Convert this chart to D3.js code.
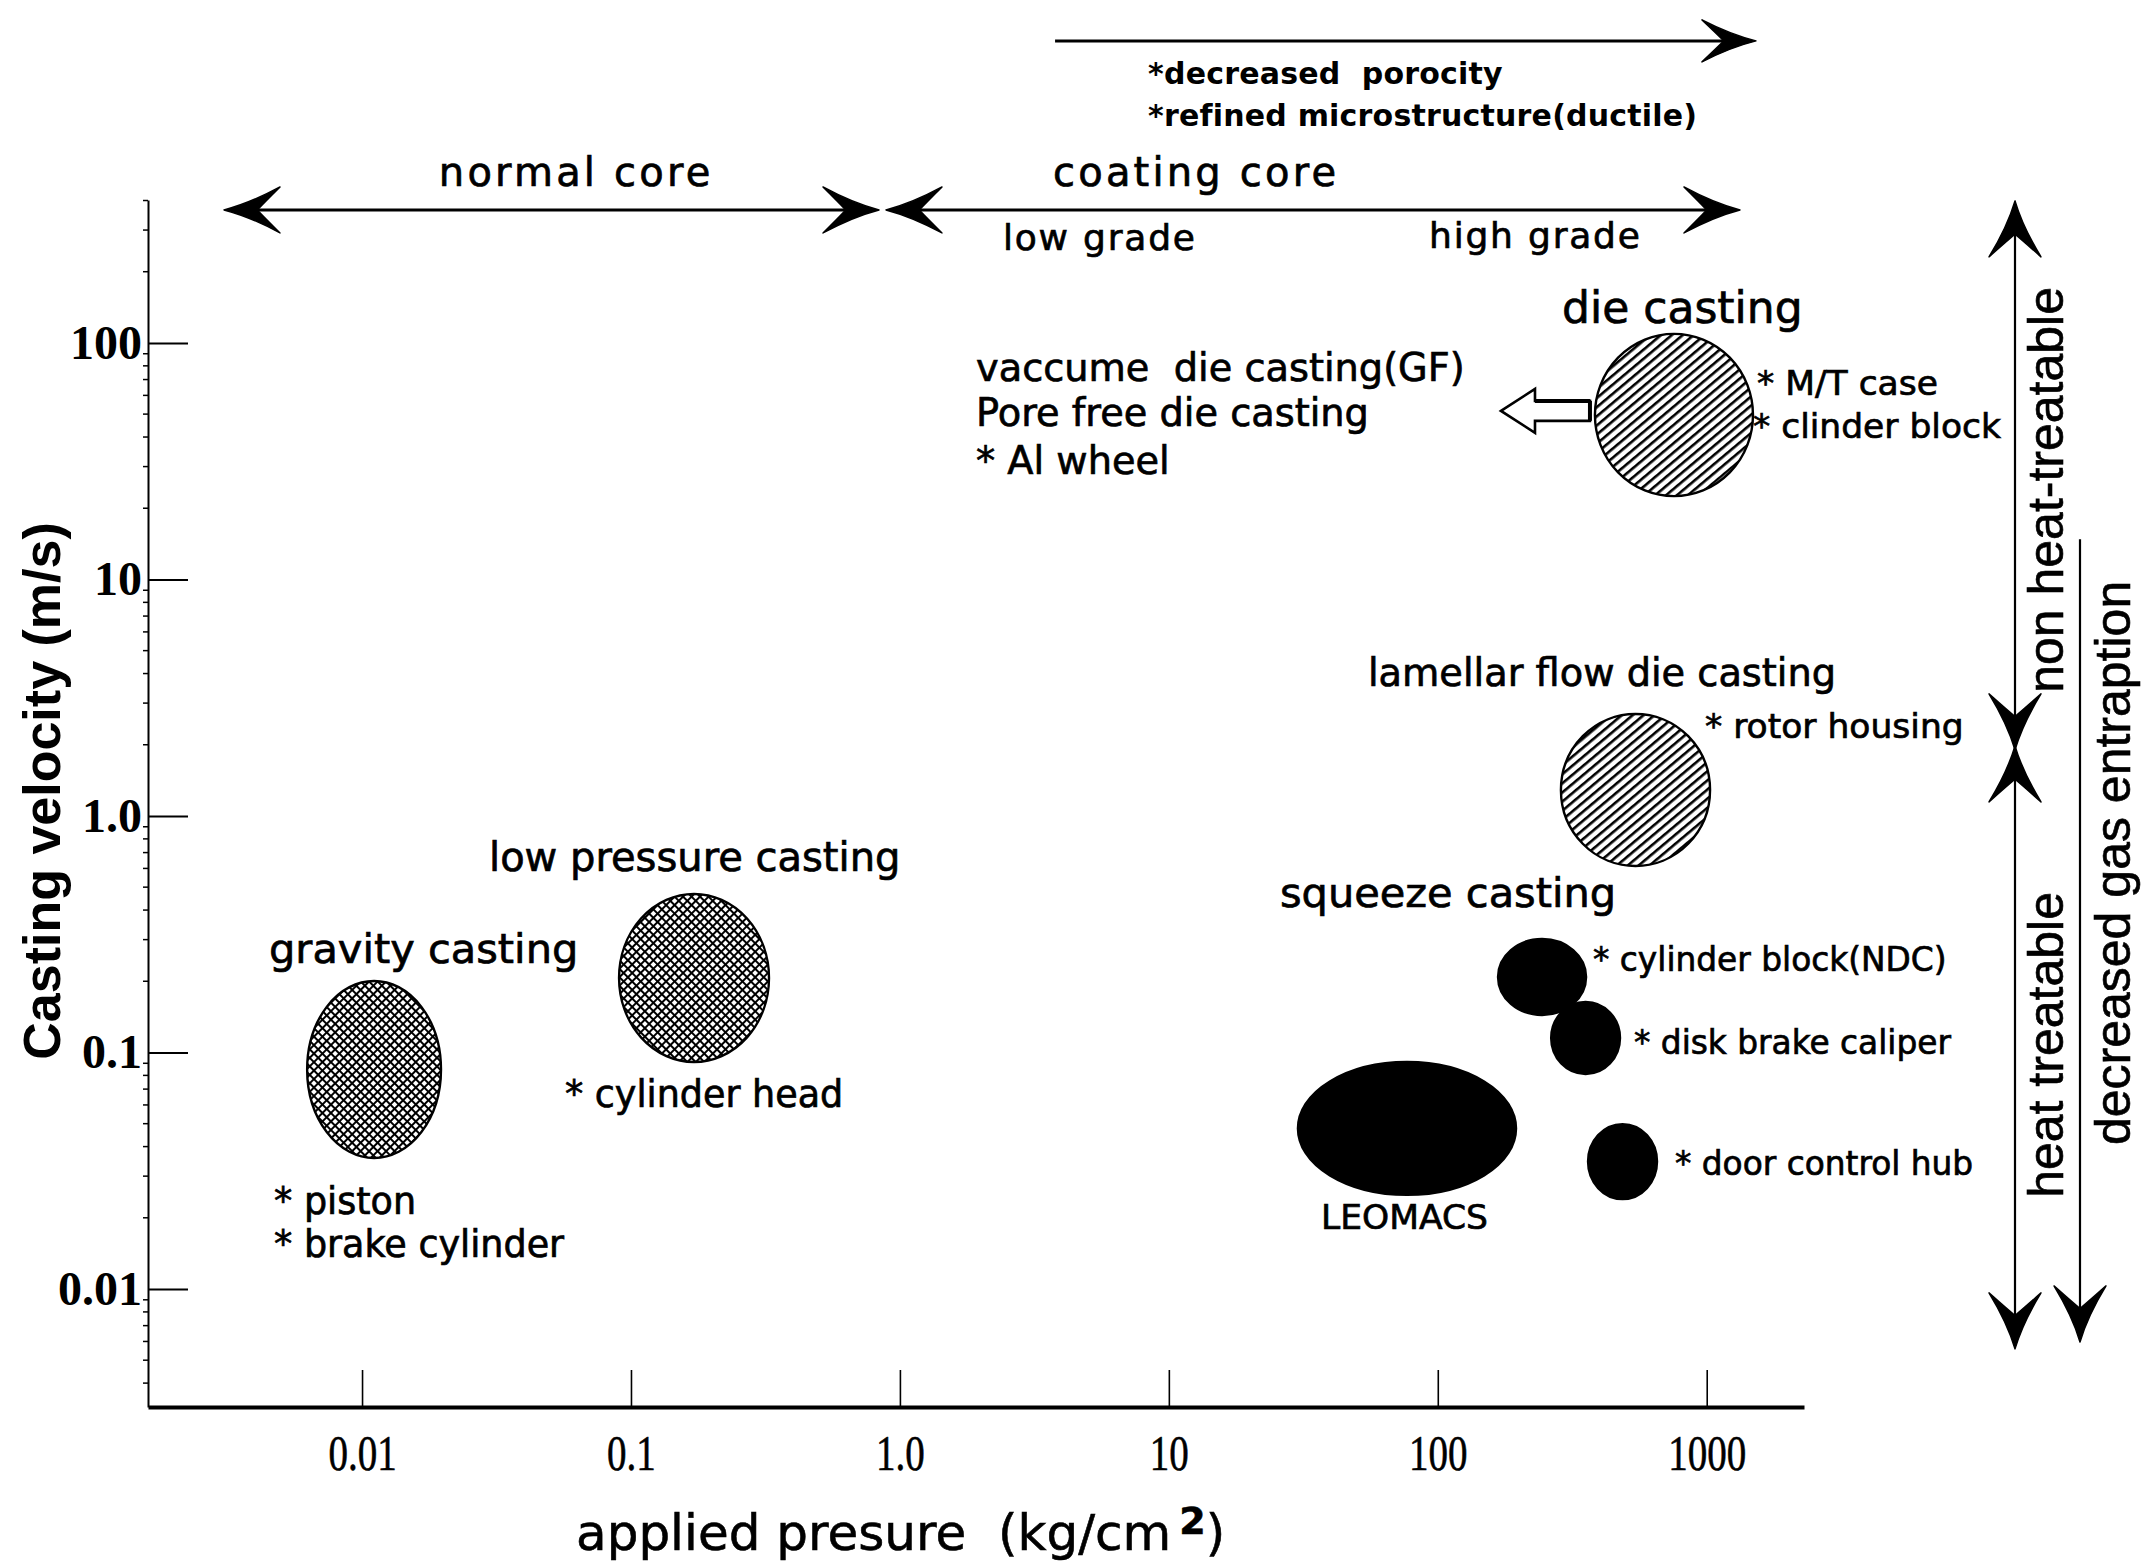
<!DOCTYPE html>
<html><head><meta charset="utf-8">
<script src="https://cdn.jsdelivr.net/npm/d3@7"></script>
<style>html,body{margin:0;padding:0;background:#fff;} svg{display:block;} text{white-space:pre;}</style>
</head><body>
<svg id="chart" width="2149" height="1567"></svg>
<script>
// ---------------- data ----------------
const xTickValues = [0.01, 0.1, 1, 10, 100, 1000];
const xTickLabels = ["0.01", "0.1", "1.0", "10", "100", "1000"];
const yTickValues = [0.01, 0.1, 1, 10, 100];
const yTickLabels = ["0.01", "0.1", "1.0", "10", "100"];
const xDomain = [0.0016, 2300];     // applied pressure (kg/cm2) extent of the axis
const yDomain = [0.00317, 402];     // casting velocity (m/s) extent of the axis

// process regions (pressure range x velocity range)
const regionNames = ["gravity casting", "low pressure casting", "die casting", "lamellar flow die casting",
  "cylinder block(NDC)", "disk brake caliper", "LEOMACS", "door control hub"];
const regionKind = ["gravity", "lowpressure", "die", "die", "squeeze", "squeeze", "squeeze", "squeeze"];
const pressureMin = [0.00625, 0.0903, 384, 287, 167.5, 264, 30.2, 362];
const pressureMax = [0.01966, 0.326, 1486, 1029, 356, 476, 195.4, 653.5];
const velocityMin = [0.0358, 0.0912, 22.5, 0.614, 0.144, 0.0811, 0.025, 0.024];
const velocityMax = [0.2006, 0.468, 109.2, 2.70, 0.302, 0.1635, 0.0912, 0.0498];

// annotation texts, anchored at (pressure, velocity)
const labelTexts = ["*decreased  porocity", "*refined microstructure(ductile)", "normal core", "coating core",
  "low grade", "high grade", "die casting", "vaccume  die casting(GF)", "Pore free die casting", "* Al wheel",
  "* M/T case", "* clinder block", "lamellar flow die casting", "* rotor housing", "low pressure casting",
  "gravity casting", "* cylinder head", "* piston", "* brake cylinder", "squeeze casting",
  "* cylinder block(NDC)", "* disk brake caliper", "* door control hub", "LEOMACS"];
const labelPressure = [8.37, 8.37, 0.0193, 3.71, 2.417, 92.8, 289.7, 1.919, 1.919, 1.919,
  1538, 1486, 55.0, 985, 0.02966, 0.00451, 0.0568, 0.00471, 0.00471, 25.9, 377.8, 536.6, 762, 36.8];
const labelVelocity = [1385, 920, 528, 528, 280.7, 286, 142, 79.2, 51.1, 32.0,
  67.8, 44.6, 4.06, 2.40, 0.671, 0.2767, 0.0668, 0.02355, 0.01549, 0.4773, 0.2485, 0.1108, 0.0341, 0.02016];
const labelRole = ["note", "note", "core", "core", "grade", "grade", "big", "sub", "sub", "sub",
  "item", "item", "sub", "item", "heading", "heading2", "item2", "item2", "item2", "heading2",
  "item3", "item3", "item3", "item"];

// horizontal range arrows (pressure ranges above the plot)
const rangeFrom = [3.775, 0.00312, 0.903];
const rangeTo = [1499, 0.822, 1307];
const rangeLevel = [1892, 365, 365];      // velocity level at which the arrow is drawn
const rangeHeadStart = [false, true, true];

// vertical range arrows (velocity ranges right of the plot)
const vRangeTop = [391, 1.94, 14.8];
const vRangeBottom = [1.94, 0.00569, 0.00609];
const vRangeColumn = [0, 0, 1];
const vRangeHeadTop = [true, true, false];
const vTexts = ["non heat-treatable", "heat treatable", "decreased gas entraption"];
const vTextVelocity = [23.9, 0.1076, 0.633];
const vTextColumn = [0, 0, 1];

// hollow arrow: from die casting toward vacuum / pore-free die casting
const hollowArrowFrom = 368, hollowArrowTo = 171.8, hollowArrowVelocity = 51.6;

// ---------------- drawing ----------------
const svg = d3.select("#chart");
const W = 2149, H = 1567;
svg.append("rect").attr("width", W).attr("height", H).attr("fill", "#fff");

const x = d3.scaleLog().domain(xDomain).range([148, 1804]);
const y = d3.scaleLog().domain(yDomain).range([1407, 200]);

const defs = svg.append("defs");
const dots = defs.append("pattern").attr("id", "dots").attr("patternUnits", "userSpaceOnUse")
  .attr("width", 6).attr("height", 6).attr("patternTransform", "rotate(45)");
dots.append("rect").attr("width", 6).attr("height", 6).attr("fill", "#fff");
dots.append("rect").attr("width", 6).attr("height", 2.0).attr("fill", "#000");
dots.append("rect").attr("width", 2.0).attr("height", 6).attr("fill", "#000");

const hatch = defs.append("pattern").attr("id", "hatch").attr("patternUnits", "userSpaceOnUse")
  .attr("width", 7).attr("height", 7).attr("patternTransform", "rotate(50)");
hatch.append("rect").attr("width", 7).attr("height", 7).attr("fill", "#fff");
hatch.append("rect").attr("width", 2.6).attr("height", 7).attr("fill", "#000");

const fillFor = { gravity: "url(#dots)", lowpressure: "url(#dots)", die: "url(#hatch)", squeeze: "#000" };

// axes
const xAxis = d3.axisBottom(x).tickValues(xTickValues).tickFormat((d, i) => xTickLabels[i])
  .tickSizeInner(-37).tickSizeOuter(0).tickPadding(28);
const gx = svg.append("g").attr("transform", "translate(0,1407)").call(xAxis);
gx.select(".domain").attr("stroke", "#000").attr("stroke-width", 4);
gx.selectAll(".tick line").attr("stroke", "#000").attr("stroke-width", 1.6);
gx.selectAll(".tick text").attr("font-family", "Liberation Serif, serif").attr("font-size", 50)
  .attr("fill", "#000").attr("stroke", "#000").attr("stroke-width", 0.6).attr("transform", "scale(0.78,1)");

const yAxis = d3.axisLeft(y).tickValues(yTickValues).tickFormat((d, i) => yTickLabels[i])
  .tickSizeInner(-40).tickSizeOuter(0).tickPadding(6);
const gy = svg.append("g").attr("transform", "translate(148,0)").call(yAxis);
gy.select(".domain").attr("stroke", "#000").attr("stroke-width", 2);
gy.selectAll(".tick line").attr("stroke", "#000").attr("stroke-width", 2);
gy.selectAll(".tick text").attr("font-family", "Liberation Serif, serif").attr("font-size", 48)
  .attr("font-weight", "bold").attr("fill", "#000");

// minor log ticks on the y axis (short, to the left)
const minor = [];
for (let e = -3; e <= 2; e++) for (let m = 2; m <= 9; m++) {
  const v = m * Math.pow(10, e);
  if (v > yDomain[0] && v < yDomain[1]) minor.push(v);
}
gy.selectAll("line.minor").data(minor).join("line").attr("class", "minor")
  .attr("x1", -5).attr("x2", 0).attr("y1", d => y(d)).attr("y2", d => y(d))
  .attr("stroke", "#000").attr("stroke-width", 1.5);

// process ellipses
const regions = regionNames.map((n, i) => ({ name: n, kind: regionKind[i],
  x0: pressureMin[i], x1: pressureMax[i], y0: velocityMin[i], y1: velocityMax[i] }));
svg.append("g").selectAll("ellipse").data(regions).join("ellipse")
  .attr("cx", d => (x(d.x0) + x(d.x1)) / 2)
  .attr("cy", d => (y(d.y0) + y(d.y1)) / 2)
  .attr("rx", d => Math.abs(x(d.x1) - x(d.x0)) / 2)
  .attr("ry", d => Math.abs(y(d.y0) - y(d.y1)) / 2)
  .attr("fill", d => fillFor[d.kind])
  .attr("stroke", "#000").attr("stroke-width", 2.4);

// chevron arrowhead, tip at (px,py), pointing along angle (deg, 0 = right)
function chevron(g, px, py, angle, L, Wd) {
  const p = `M2,0 Q${-0.45 * L},${-0.3 * Wd} ${-L},${-Wd} Q${-0.7 * L},${-0.3 * Wd} ${-0.58 * L},0 ` +
            `Q${-0.7 * L},${0.3 * Wd} ${-L},${Wd} Q${-0.45 * L},${0.3 * Wd} 2,0 Z`;
  g.append("path").attr("d", p).attr("fill", "#000").attr("stroke", "#000").attr("stroke-width", 1.5)
    .attr("stroke-linejoin", "round")
    .attr("transform", `translate(${px},${py}) rotate(${angle})`);
}

const ann = svg.append("g");
// horizontal range arrows
rangeFrom.forEach((f, i) => {
  const x0 = x(f), x1 = x(rangeTo[i]), yy = y(rangeLevel[i]);
  ann.append("line").attr("x1", x0 + (rangeHeadStart[i] ? 10 : 0)).attr("x2", x1 - 10)
    .attr("y1", yy).attr("y2", yy).attr("stroke", "#000").attr("stroke-width", 3);
  chevron(ann, x1, yy, 0, i === 0 ? 52 : 54, i === 0 ? 21 : 23);
  if (rangeHeadStart[i]) chevron(ann, x0, yy, 180, 54, 23);
});

// vertical range arrows on the right
const colX = [x.range()[1] + 211, x.range()[1] + 276];
vRangeTop.forEach((t, i) => {
  const cx = colX[vRangeColumn[i]], y0 = y(t), y1 = y(vRangeBottom[i]);
  ann.append("line").attr("x1", cx).attr("x2", cx)
    .attr("y1", y0 + (vRangeHeadTop[i] ? 10 : 0)).attr("y2", y1 - 10)
    .attr("stroke", "#000").attr("stroke-width", 2.2);
  chevron(ann, cx, y1, 90, 54, 26);
  if (vRangeHeadTop[i]) chevron(ann, cx, y0, -90, 54, 26);
});
const vTextX = [x.range()[1] + 241, x.range()[1] + 308];
vTexts.forEach((t, i) => {
  const tx = vTextX[vTextColumn[i]], ty = y(vTextVelocity[i]);
  ann.append("text").attr("transform", `translate(${tx},${ty}) rotate(-90)`)
    .attr("text-anchor", "middle").attr("dy", "0.36em")
    .attr("font-family", "Liberation Sans, Arial, sans-serif").attr("font-size", 50)
    .attr("fill", "#000").attr("stroke", "#000").attr("stroke-width", 0.6).text(t);
});

// hollow arrow
{
  const xt = x(hollowArrowTo), xe = x(hollowArrowFrom), yc = y(hollowArrowVelocity);
  const xh = xt + 34;
  const pts = [[xt, yc], [xh, yc - 22], [xh, yc - 10], [xe, yc - 10], [xe, yc + 10], [xh, yc + 10], [xh, yc + 22]];
  ann.append("polygon").attr("points", pts.map(p => p.join(",")).join(" "))
    .attr("fill", "#fff").attr("stroke", "#000").attr("stroke-width", 2.6).attr("stroke-linejoin", "miter");
  ann.append("line").attr("x1", xh).attr("x2", xe).attr("y1", yc - 10).attr("y2", yc - 10)
    .attr("stroke", "#000").attr("stroke-width", 4);
  ann.append("line").attr("x1", xe).attr("x2", xe).attr("y1", yc - 10).attr("y2", yc + 10)
    .attr("stroke", "#000").attr("stroke-width", 4);
}

// labels
const roleStyle = {
  note: { size: 30, ls: 0.2, weight: "bold" },
  core: { size: 40, ls: 3.2, weight: "normal" },
  grade: { size: 36, ls: 1.8, weight: "normal" },
  big: { size: 44, ls: 0, weight: "normal" },
  heading: { size: 40, ls: 0, weight: "normal" },
  heading2: { size: 41.5, ls: 0, weight: "normal" },
  sub: { size: 38.3, ls: 0, weight: "normal" },
  item: { size: 34.5, ls: 0, weight: "normal" },
  item2: { size: 36.5, ls: 0, weight: "normal" },
  item3: { size: 32.8, ls: 0, weight: "normal" }
};
labelTexts.forEach((t, i) => {
  const st = roleStyle[labelRole[i]];
  ann.append("text").attr("x", x(labelPressure[i])).attr("y", y(labelVelocity[i]))
    .attr("dy", "0.36em").attr("font-family", "DejaVu Sans, sans-serif")
    .attr("font-size", st.size).attr("font-weight", st.weight).attr("letter-spacing", st.ls)
    .attr("fill", "#000").attr("stroke", "#000").attr("stroke-width", st.weight === "bold" ? 0 : 0.7)
    .text(t);
});

// axis titles
svg.append("text").attr("transform", "translate(41,791) rotate(-90)")
  .attr("text-anchor", "middle").attr("dy", "0.36em")
  .attr("font-family", "Liberation Sans, Arial, sans-serif").attr("font-size", 52).attr("font-weight", "bold")
  .attr("fill", "#000").text("Casting velocity (m/s)");

const xt = svg.append("text").attr("x", 576).attr("y", 1532).attr("dy", "0.36em")
  .attr("font-family", "DejaVu Sans, sans-serif").attr("font-size", 50).attr("fill", "#000")
  .attr("stroke", "#000").attr("stroke-width", 0.6);
xt.append("tspan").text("applied presure  (kg/cm");
xt.append("tspan").attr("dx", 8).attr("dy", -16).attr("font-size", 38).attr("font-weight", "bold").text("2");
xt.append("tspan").attr("dy", 16).text(")");
</script>
</body></html>
